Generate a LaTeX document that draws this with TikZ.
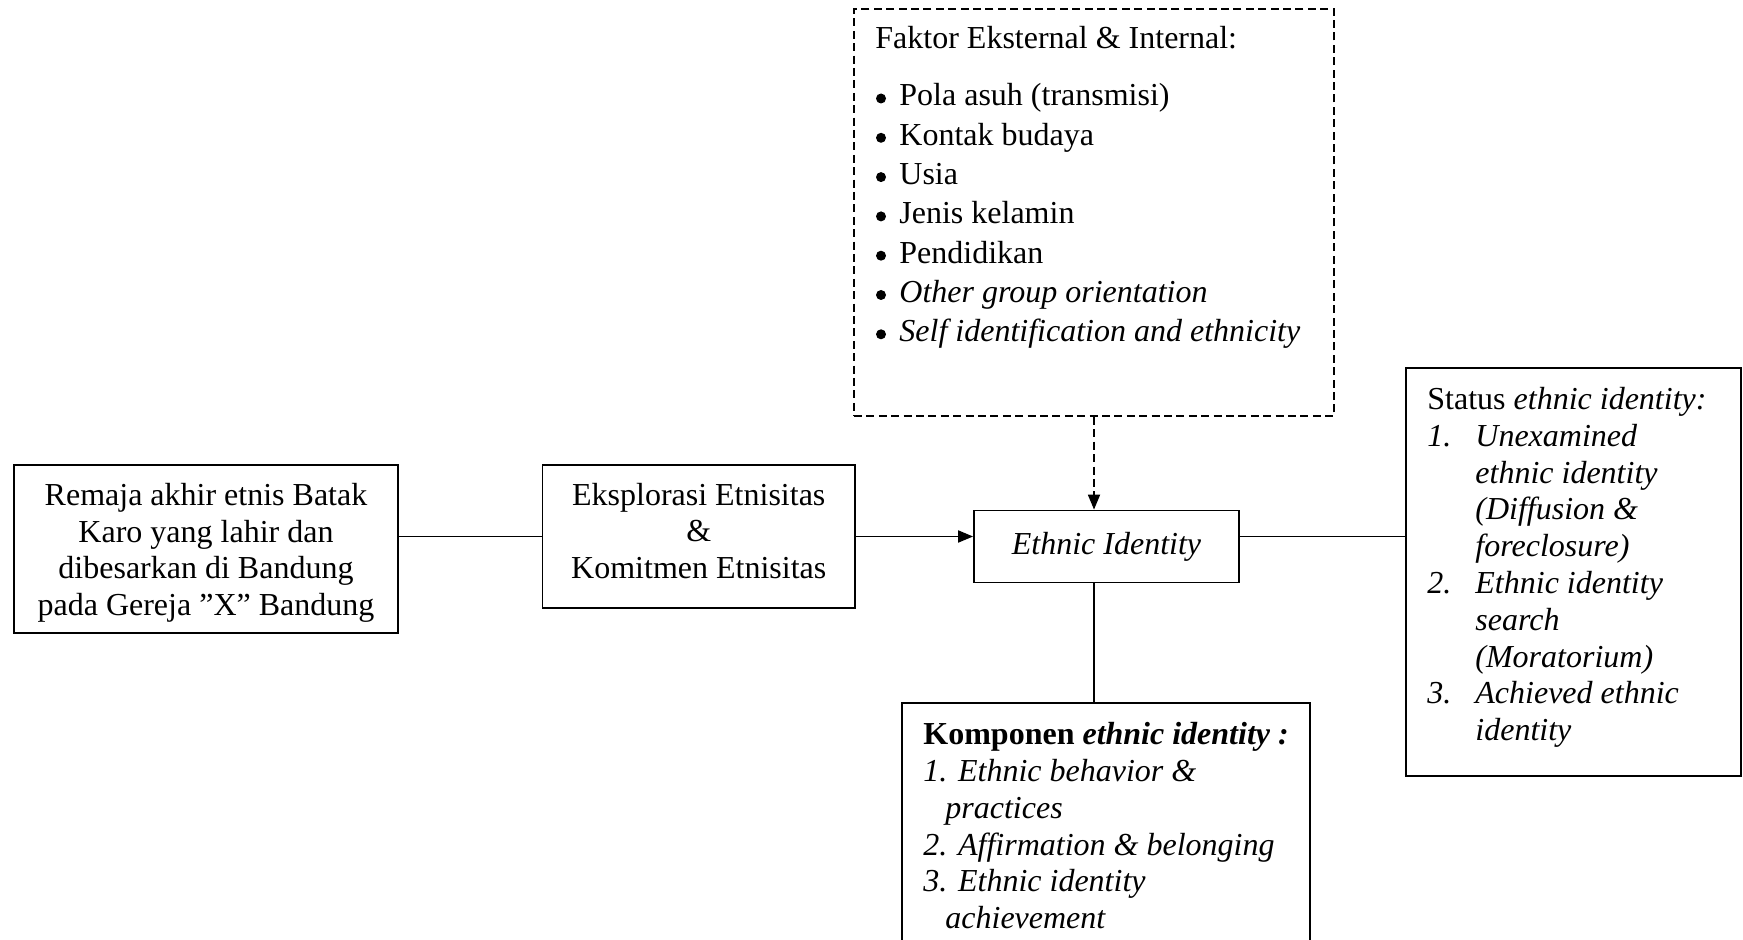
\documentclass[tikz,border=0pt]{standalone}
\usepackage{fontspec}
\setmainfont{Liberation Serif}
\usetikzlibrary{arrows.meta}
\begin{document}
\begin{tikzpicture}[x=0.5pt,y=-0.5pt,
  box/.style={draw,line width=0.9pt,rectangle,inner sep=0pt},
  txt/.style={inner sep=0pt,font=\fontsize{16}{18.3}\selectfont},
  lt/.style={txt,anchor=base west},
  dot/.style={circle,fill,inner sep=0pt,minimum size=5pt},
  conn/.style={line width=0.9pt},
  arr/.style={conn,-{Triangle[length=7.5pt,width=6pt]}},
  dash box/.style={box,dash pattern=on 4pt off 2.2pt}
]
\useasboundingbox[fill=white] (0,0) rectangle (1743,940);

% boxes
\node[box,minimum width=191.75pt,minimum height=84pt] (L) at (206,549) {};
\node[txt,align=center] (Lt) at (206,553)
  {Remaja akhir etnis Batak\\Karo yang lahir dan\\dibesarkan di Bandung\\pada Gereja ”X” Bandung};
\node[box,minimum width=156.25pt,minimum height=71.5pt] (M) at (698.75,536.5) {};
\node[txt,align=center] (Mt) at (698.75,531) {Eksplorasi Etnisitas\\\&\\Komitmen Etnisitas};
\node[box,minimum width=132.5pt,minimum height=36pt,txt] (E) at (1106.5,546.5) {\itshape Ethnic Identity};
\node[dash box,minimum width=240pt,minimum height=203.5pt] (F) at (1094,212.5) {};
\node[box,minimum width=167.5pt,minimum height=204pt] (S) at (1573.5,572) {};
\node[box,minimum width=204pt,minimum height=138.5pt] (K) at (1106,841.5) {};

% Faktor list
\node[lt] (f0) at (875,49) {Faktor Eksternal \& Internal:};
\foreach \t [count=\i] in {Pola asuh (transmisi),Kontak budaya,Usia,Jenis kelamin,Pendidikan,\textit{Other group orientation},\textit{Self identification and ethnicity}}{
  \node[dot] (fb\i) at (881,{66.7+39.3*\i-7.5}) {};
  \node[lt] (ft\i) at (899,{66.7+39.3*\i}) {\t};
}

% Komponen list
\node[lt] (k0) at (923,744.5) {\bfseries Komponen \itshape ethnic identity :};
\node[lt] (k1) at (923,781) {\itshape 1. Ethnic behavior \&};
\node[lt] (k2) at (945,818) {\itshape practices};
\node[lt] (k3) at (923,855) {\itshape 2. Affirmation \& belonging};
\node[lt] (k4) at (923,891.5) {\itshape 3. Ethnic identity};
\node[lt] (k5) at (945,928) {\itshape achievement};

% Status list
\node[lt] (s0) at (1427,409.5) {Status \textit{ethnic identity:}};
\node[lt] (n1) at (1427,446.3) {\itshape 1.};
\node[lt] (s1) at (1475,446.3) {\itshape Unexamined};
\node[lt] (s2) at (1475,483.1) {\itshape ethnic identity};
\node[lt] (s3) at (1475,519.9) {\itshape (Diffusion \&};
\node[lt] (s4) at (1475,556.7) {\itshape foreclosure)};
\node[lt] (n2) at (1427,593.5) {\itshape 2.};
\node[lt] (s5) at (1475,593.5) {\itshape Ethnic identity};
\node[lt] (s6) at (1475,630.3) {\itshape search};
\node[lt] (s7) at (1475,667.1) {\itshape (Moratorium)};
\node[lt] (n3) at (1427,703.9) {\itshape 3.};
\node[lt] (s8) at (1475,703.9) {\itshape Achieved ethnic};
\node[lt] (s9) at (1475,740.7) {\itshape identity};

% connectors
\draw[conn] (L.east |- M.center) -- (M.west);
\draw[arr] (M.center -| M.east) -- (M.center -| E.west);
\draw[arr,dash pattern=on 4pt off 2.2pt] (F.south) -- (F.south |- E.north);
\draw[conn] (M.center -| E.east) -- (M.center -| S.west);
\draw[conn] (F.south |- E.south) -- (F.south |- K.north);
\end{tikzpicture}
\end{document}
